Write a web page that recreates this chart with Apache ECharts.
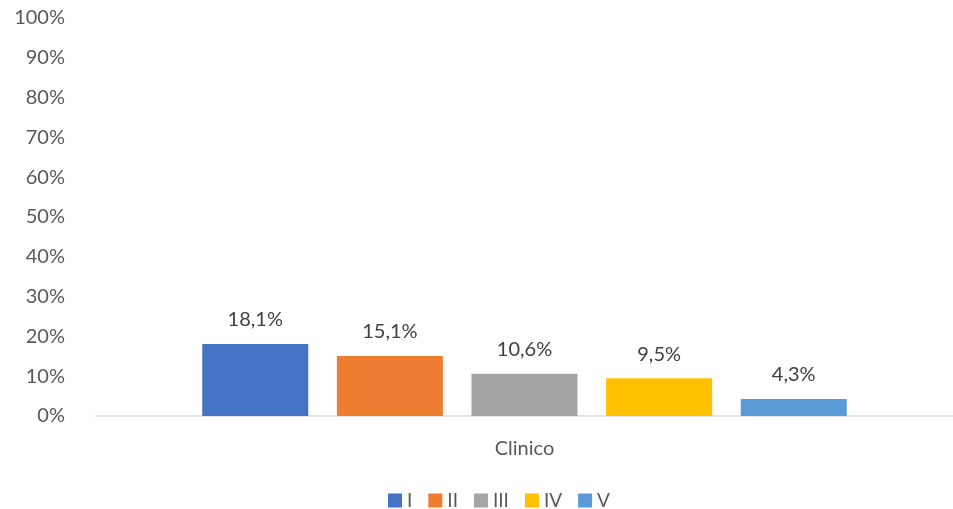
<!DOCTYPE html>
<html><head><meta charset="utf-8">
<script src="https://cdn.jsdelivr.net/npm/echarts@6/dist/echarts.min.js"></script>
<style>html,body{margin:0;padding:0;background:#fff}#c{width:953px;height:509px}</style>
</head><body><div id="c"></div>
<script>
const categories = ['Clinico'];
const seriesNames = ['I', 'II', 'III', 'IV', 'V'];
const seriesValues = [18.1, 15.1, 10.6, 9.5, 4.3];
const colors = ['#4472C4', '#ED7D31', '#A5A5A5', '#FFC000', '#5B9BD5'];
const yTicks = { min: 0, max: 100, interval: 10 };

const font = 'Lato, "Open Sans", sans-serif';
const chart = echarts.init(document.getElementById('c'));
chart.setOption({
  animation: false,
  textStyle: { fontFamily: font },
  grid: { left: 96, top: 18, right: 0, bottom: 93, containLabel: false },
  legend: {
    top: 491, left: 388, padding: 0, itemWidth: 14, itemHeight: 14, itemGap: 16,
    icon: 'rect', data: seriesNames,
    textStyle: { color: '#595959', fontSize: 19, fontFamily: font }
  },
  xAxis: {
    type: 'category', data: categories,
    axisLine: { lineStyle: { color: '#D9D9D9', width: 1.5 } },
    axisTick: { show: false },
    axisLabel: { color: '#595959', fontSize: 20, margin: 23, fontFamily: font }
  },
  yAxis: {
    type: 'value', min: yTicks.min, max: yTicks.max, interval: yTicks.interval,
    axisLine: { show: false }, axisTick: { show: false },
    splitLine: { show: false },
    axisLabel: { color: '#595959', fontSize: 20, margin: 31, fontFamily: font, formatter: v => v + '%' }
  },
  series: seriesNames.map((n, i) => ({
    name: n, type: 'bar', data: [seriesValues[i]],
    barWidth: 106, barGap: '27%',
    itemStyle: { color: colors[i] },
    label: { show: true, position: 'top', distance: 14, color: '#404040', fontSize: 20, fontFamily: font,
      formatter: p => p.value.toFixed(1).replace('.', ',') + '%' }
  }))
});
</script></body></html>
